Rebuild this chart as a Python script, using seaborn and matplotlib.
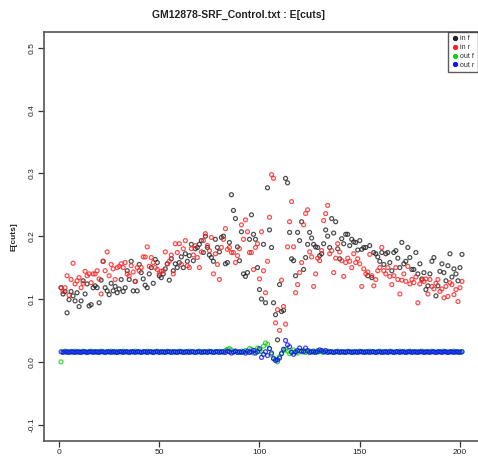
import numpy as np
import pandas as pd
import matplotlib
matplotlib.use("Agg")
import matplotlib.pyplot as plt
import seaborn as sns
from matplotlib.lines import Line2D

# values, position 1..201
in_f = [
    0.118, 0.108, 0.112, 0.078, 0.099, 0.112, 0.105, 0.097, 0.110, 0.088,
    0.097, 0.129, 0.108, 0.124, 0.089, 0.091, 0.118, 0.121, 0.118, 0.094,
    0.130, 0.160, 0.118, 0.113, 0.107, 0.125, 0.113, 0.120, 0.110, 0.116,
    0.131, 0.112, 0.118, 0.145, 0.131, 0.160, 0.113, 0.128, 0.113, 0.155,
    0.142, 0.132, 0.122, 0.118, 0.140, 0.150, 0.125, 0.163, 0.158, 0.137,
    0.134, 0.140, 0.148, 0.156, 0.130, 0.164, 0.145, 0.156, 0.150, 0.158,
    0.167, 0.150, 0.172, 0.160, 0.169, 0.187, 0.161, 0.180, 0.182, 0.187,
    0.193, 0.174, 0.200, 0.182, 0.170, 0.166, 0.160, 0.195, 0.182, 0.175,
    0.198, 0.200, 0.156, 0.158, 0.190, 0.266, 0.241, 0.228, 0.183, 0.161,
    0.207, 0.140, 0.136, 0.142, 0.195, 0.234, 0.203, 0.195, 0.150, 0.115,
    0.100, 0.187, 0.094, 0.277, 0.210, 0.182, 0.094, 0.075, 0.035, 0.123,
    0.080, 0.082, 0.292, 0.285, 0.206, 0.164, 0.161, 0.137, 0.206, 0.193,
    0.223, 0.147, 0.166, 0.187, 0.206, 0.197, 0.187, 0.183, 0.182, 0.169,
    0.172, 0.188, 0.210, 0.200, 0.182, 0.228, 0.205, 0.223, 0.180, 0.164,
    0.196, 0.188, 0.203, 0.203, 0.185, 0.195, 0.191, 0.190, 0.178, 0.193,
    0.179, 0.182, 0.182, 0.137, 0.185, 0.134, 0.174, 0.172, 0.167, 0.160,
    0.174, 0.155, 0.172, 0.174, 0.158, 0.145, 0.174, 0.177, 0.165, 0.150,
    0.190, 0.156, 0.160, 0.182, 0.166, 0.147, 0.147, 0.174, 0.140, 0.156,
    0.132, 0.142, 0.115, 0.121, 0.140, 0.160, 0.166, 0.105, 0.121, 0.144,
    0.156, 0.142, 0.129, 0.153, 0.172, 0.135, 0.148, 0.140, 0.129, 0.150, 0.171,
]
in_r = [
    0.118, 0.112, 0.118, 0.137, 0.106, 0.131, 0.157, 0.124, 0.129, 0.134,
    0.118, 0.125, 0.144, 0.137, 0.140, 0.126, 0.140, 0.140, 0.145, 0.132,
    0.108, 0.160, 0.145, 0.175, 0.137, 0.155, 0.148, 0.131, 0.150, 0.152,
    0.156, 0.150, 0.158, 0.140, 0.137, 0.153, 0.143, 0.128, 0.150, 0.145,
    0.150, 0.167, 0.167, 0.183, 0.152, 0.166, 0.158, 0.150, 0.147, 0.140,
    0.144, 0.145, 0.175, 0.156, 0.160, 0.170, 0.140, 0.188, 0.174, 0.188,
    0.155, 0.180, 0.193, 0.153, 0.150, 0.180, 0.170, 0.185, 0.166, 0.150,
    0.175, 0.193, 0.204, 0.185, 0.177, 0.198, 0.140, 0.172, 0.155, 0.131,
    0.182, 0.195, 0.212, 0.179, 0.182, 0.174, 0.174, 0.158, 0.169, 0.180,
    0.218, 0.195, 0.226, 0.207, 0.174, 0.174, 0.147, 0.182, 0.188, 0.132,
    0.207, 0.145, 0.110, 0.160, 0.230, 0.298, 0.292, 0.062, 0.083, 0.050,
    0.130, 0.088, 0.060, 0.183, 0.223, 0.255, 0.183, 0.110, 0.123, 0.142,
    0.158, 0.218, 0.236, 0.242, 0.175, 0.167, 0.120, 0.140, 0.165, 0.161,
    0.177, 0.225, 0.236, 0.249, 0.172, 0.177, 0.142, 0.165, 0.188, 0.175,
    0.161, 0.136, 0.158, 0.165, 0.160, 0.150, 0.172, 0.158, 0.164, 0.156,
    0.120, 0.148, 0.140, 0.143, 0.171, 0.137, 0.121, 0.131, 0.145, 0.150,
    0.182, 0.145, 0.140, 0.150, 0.136, 0.123, 0.137, 0.150, 0.131, 0.108,
    0.130, 0.140, 0.128, 0.152, 0.124, 0.131, 0.126, 0.135, 0.094, 0.124,
    0.130, 0.128, 0.132, 0.108, 0.131, 0.120, 0.116, 0.125, 0.131, 0.112,
    0.116, 0.102, 0.120, 0.104, 0.126, 0.123, 0.107, 0.115, 0.096, 0.118, 0.128,
]
out_f = [
    0.000, 0.016, 0.017, 0.015, 0.016, 0.016, 0.015, 0.017, 0.016, 0.015,
    0.016, 0.017, 0.016, 0.015, 0.016, 0.017, 0.016, 0.016, 0.015, 0.016,
    0.017, 0.016, 0.015, 0.016, 0.016, 0.017, 0.016, 0.015, 0.016, 0.016,
    0.016, 0.017, 0.016, 0.016, 0.015, 0.016, 0.016, 0.017, 0.016, 0.016,
    0.015, 0.016, 0.016, 0.017, 0.016, 0.016, 0.015, 0.016, 0.017, 0.016,
    0.016, 0.015, 0.016, 0.017, 0.016, 0.016, 0.016, 0.015, 0.016, 0.017,
    0.016, 0.016, 0.015, 0.016, 0.017, 0.016, 0.016, 0.015, 0.016, 0.017,
    0.016, 0.015, 0.016, 0.016, 0.017, 0.016, 0.015, 0.016, 0.016, 0.017,
    0.016, 0.015, 0.018, 0.020, 0.021, 0.019, 0.015, 0.017, 0.016, 0.015,
    0.017, 0.016, 0.018, 0.015, 0.021, 0.020, 0.014, 0.018, 0.022, 0.018,
    0.016, 0.025, 0.030, 0.028, 0.021, 0.012, 0.006, 0.004, 0.000, 0.008,
    0.014, 0.018, 0.020, 0.017, 0.013, 0.016, 0.019, 0.015, 0.014, 0.017,
    0.016, 0.018, 0.015, 0.016, 0.017, 0.016, 0.015, 0.016, 0.018, 0.016,
    0.016, 0.015, 0.016, 0.017, 0.016, 0.016, 0.015, 0.016, 0.017, 0.016,
    0.016, 0.015, 0.016, 0.017, 0.016, 0.016, 0.015, 0.016, 0.016, 0.017,
    0.016, 0.016, 0.015, 0.016, 0.017, 0.016, 0.016, 0.015, 0.016, 0.017,
    0.016, 0.015, 0.016, 0.016, 0.017, 0.016, 0.015, 0.016, 0.016, 0.017,
    0.016, 0.016, 0.015, 0.016, 0.017, 0.016, 0.016, 0.015, 0.016, 0.016,
    0.017, 0.016, 0.015, 0.016, 0.016, 0.017, 0.016, 0.015, 0.016, 0.016,
    0.016, 0.017, 0.016, 0.015, 0.016, 0.016, 0.017, 0.016, 0.015, 0.016, 0.016,
]
out_r = [
    0.016, 0.015, 0.016, 0.016, 0.015, 0.016, 0.016, 0.015, 0.016, 0.016,
    0.015, 0.016, 0.016, 0.015, 0.016, 0.016, 0.015, 0.016, 0.016, 0.015,
    0.016, 0.016, 0.015, 0.016, 0.016, 0.015, 0.016, 0.016, 0.015, 0.016,
    0.016, 0.015, 0.016, 0.016, 0.015, 0.016, 0.016, 0.015, 0.016, 0.016,
    0.015, 0.016, 0.016, 0.015, 0.016, 0.016, 0.015, 0.016, 0.016, 0.015,
    0.016, 0.016, 0.015, 0.016, 0.016, 0.015, 0.016, 0.016, 0.015, 0.016,
    0.016, 0.015, 0.016, 0.016, 0.015, 0.016, 0.016, 0.015, 0.016, 0.016,
    0.015, 0.016, 0.016, 0.015, 0.016, 0.016, 0.015, 0.016, 0.016, 0.015,
    0.016, 0.016, 0.015, 0.017, 0.016, 0.014, 0.016, 0.017, 0.015, 0.016,
    0.015, 0.016, 0.014, 0.017, 0.015, 0.016, 0.018, 0.014, 0.016, 0.021,
    0.007, 0.012, 0.016, 0.010, 0.021, 0.014, 0.005, 0.002, 0.003, 0.006,
    0.013, 0.020, 0.034, 0.027, 0.024, 0.015, 0.012, 0.016, 0.018, 0.022,
    0.017, 0.016, 0.022, 0.018, 0.015, 0.016, 0.017, 0.015, 0.016, 0.019,
    0.018, 0.016, 0.018, 0.015, 0.016, 0.016, 0.015, 0.016, 0.016, 0.015,
    0.016, 0.016, 0.015, 0.016, 0.016, 0.015, 0.016, 0.016, 0.015, 0.016,
    0.016, 0.015, 0.016, 0.016, 0.015, 0.016, 0.016, 0.015, 0.016, 0.016,
    0.015, 0.016, 0.016, 0.015, 0.016, 0.016, 0.015, 0.016, 0.016, 0.015,
    0.016, 0.016, 0.015, 0.016, 0.016, 0.015, 0.016, 0.016, 0.015, 0.016,
    0.016, 0.015, 0.016, 0.016, 0.015, 0.016, 0.016, 0.015, 0.016, 0.016,
    0.015, 0.016, 0.016, 0.015, 0.016, 0.016, 0.015, 0.016, 0.016, 0.015, 0.016,
]

series = ["in f", "in r", "out f", "out r"]
colors = ["#222222", "#ff2020", "#10d010", "#1010ff"]

pos = np.arange(1, len(in_f) + 1)
df = pd.concat([
    pd.DataFrame({"pos": pos, "value": vals, "series": name})
    for name, vals in zip(series, [in_f, in_r, out_f, out_r])
])

sns.set_style("ticks")
plt.rcParams["font.family"] = ["Liberation Sans", "DejaVu Sans"]

fig = plt.figure(figsize=(4.78, 4.59), dpi=100)
ax = fig.add_axes([44 / 478, 18 / 459, 434 / 478, 409 / 459])

for name, col in zip(series, colors):
    sub = df[df["series"] == name]
    sns.scatterplot(data=sub, x="pos", y="value", ax=ax, marker="o",
                    facecolors="none", edgecolor=col, linewidth=0.9, s=8,
                    alpha=0.8, legend=False)

ax.set_xlim(-7.5, 209)
ax.set_ylim(-0.126, 0.525)
ax.set_xticks([0, 50, 100, 150, 200])
ax.set_yticks([-0.1, 0.0, 0.1, 0.2, 0.3, 0.4, 0.5])
ax.set_yticklabels(["-0.1", "0.0", "0.1", "0.2", "0.3", "0.4", "0.5"],
                   rotation=90, va="center")
ax.tick_params(labelsize=6, length=4, width=0.9, color="#333333",
               labelcolor="#222222", pad=2)
ax.set_xlabel("")
ax.set_ylabel("E[cuts]", fontsize=6, labelpad=8, fontweight="bold")
for sp in ax.spines.values():
    sp.set_color("#555555")
    sp.set_linewidth(1.2)
ax.spines["right"].set_visible(False)

fig.text(0.5, 1 - 15 / 459, "GM12878-SRF_Control.txt : E[cuts]",
         ha="center", va="center", fontsize=7.5, fontweight="bold",
         color="#222222")

handles = [Line2D([], [], marker="o", linestyle="none", color=c,
                  markersize=2.8) for c in colors]
leg = ax.legend(handles, series, loc="upper right", fontsize=5,
                frameon=True, fancybox=False, borderaxespad=0,
                handletextpad=0.2, handlelength=1.0, labelspacing=0.25,
                borderpad=0.5)
leg.get_frame().set_edgecolor("#333333")
leg.get_frame().set_linewidth(1.0)

fig.savefig("out.png", dpi=100)
